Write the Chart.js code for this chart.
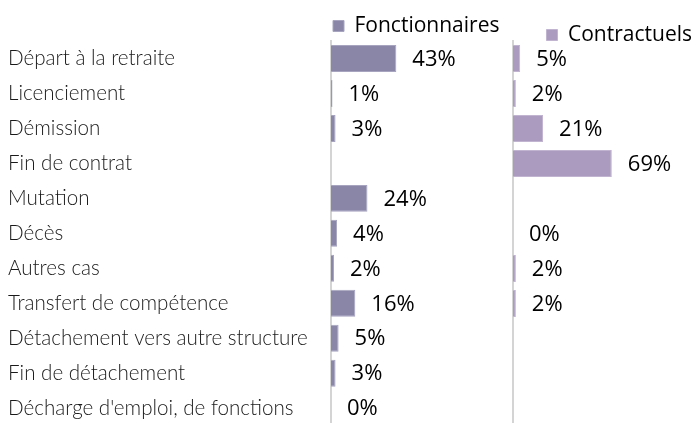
<!DOCTYPE html>
<html>
<head>
<meta charset="utf-8">
<script src="https://cdn.jsdelivr.net/npm/chart.js@4.4.0/dist/chart.umd.min.js"></script>
<style>
  html, body { margin: 0; padding: 0; background: #fff; overflow: hidden; }
  #wrap { position: relative; width: 697px; height: 423px; overflow: hidden; }
  #c1 { position: absolute; left: 0; top: 0; }
  #c2 { position: absolute; left: 505px; top: 0; }
</style>
</head>
<body>
<div id="wrap">
  <canvas id="c1" width="505" height="438"></canvas>
  <canvas id="c2" width="192" height="426"></canvas>
</div>
<script>
// motifs de départ
var categories = [
  'Départ à la retraite',
  'Licenciement',
  'Démission',
  'Fin de contrat',
  'Mutation',
  'Décès',
  'Autres cas',
  'Transfert de compétence',
  'Détachement vers autre structure',
  'Fin de détachement',
  "Décharge d'emploi, de fonctions"
];
var fonctionnaires = [43, 1, 3, null, 24, 4, 2, 16, 5, 3, 0];
var contractuels = [5, 2, 21, 69, null, 0, 2, 2, null, null, null];

var valueFont = '22px "Open Sans", sans-serif';

// pourcentage écrit au bout de chaque barre
var valueLabels = {
  id: 'valueLabels',
  afterDatasetsDraw: function(chart) {
    var ctx = chart.ctx;
    ctx.save();
    ctx.font = valueFont;
    ctx.fillStyle = '#000';
    ctx.textAlign = 'left';
    ctx.textBaseline = 'middle';
    chart.data.datasets.forEach(function(ds, i) {
      chart.getDatasetMeta(i).data.forEach(function(bar, j) {
        var v = ds.data[j];
        if (v === null) return;
        ctx.fillText(v + '%', bar.x + 16, bar.y + 1);
      });
    });
    ctx.restore();
  }
};

function makeChart(id, label, data, fill, border, opts) {
  return new Chart(document.getElementById(id), {
    type: 'bar',
    data: {
      labels: categories,
      datasets: [{
        label: label,
        data: data,
        backgroundColor: fill,
        borderColor: border,
        borderWidth: 1,
        categoryPercentage: 1,
        barPercentage: 0.77
      }]
    },
    options: {
      indexAxis: 'y',
      responsive: false,
      animation: false,
      layout: { padding: { left: opts.showTicks ? 8 : 0, right: 0, top: opts.padTop, bottom: 0 } },
      plugins: {
        legend: {
          position: 'top',
          align: opts.legendAlign,
          fullSize: false,
          maxHeight: opts.legendHeight,
          labels: {
            boxWidth: 11,
            boxHeight: 11,
            padding: opts.legendPad,
            color: '#000',
            font: { family: '"Open Sans", sans-serif', size: 21 }
          }
        },
        tooltip: { enabled: false }
      },
      scales: {
        x: { display: false, min: 0, max: opts.xmax },
        y: {
          grid: { display: false },
          border: { display: true, color: '#d4d4d4', width: 2 },
          afterFit: function(s) { s.width = opts.axisWidth; },
          ticks: {
            display: opts.showTicks,
            crossAlign: 'far',
            padding: 0,
            color: '#1a1a1a',
            font: { family: 'Lato, sans-serif', size: 20.6, weight: '300' }
          }
        }
      }
    },
    plugins: [valueLabels]
  });
}

makeChart('c1', 'Fonctionnaires', fonctionnaires, '#8986a8', '#a6a4bf', {
  xmax: 114.5, axisWidth: 323, showTicks: true, legendAlign: 'start', legendPad: 2,
  padTop: 13.5, legendHeight: 27.5
});
makeChart('c2', 'Contractuels', contractuels, '#ab9bbf', '#c0b4d0', {
  xmax: 128.5, axisWidth: 8, showTicks: false, legendAlign: 'end', legendPad: 5,
  padTop: 19.5, legendHeight: 21.5
});
</script>
</body>
</html>
